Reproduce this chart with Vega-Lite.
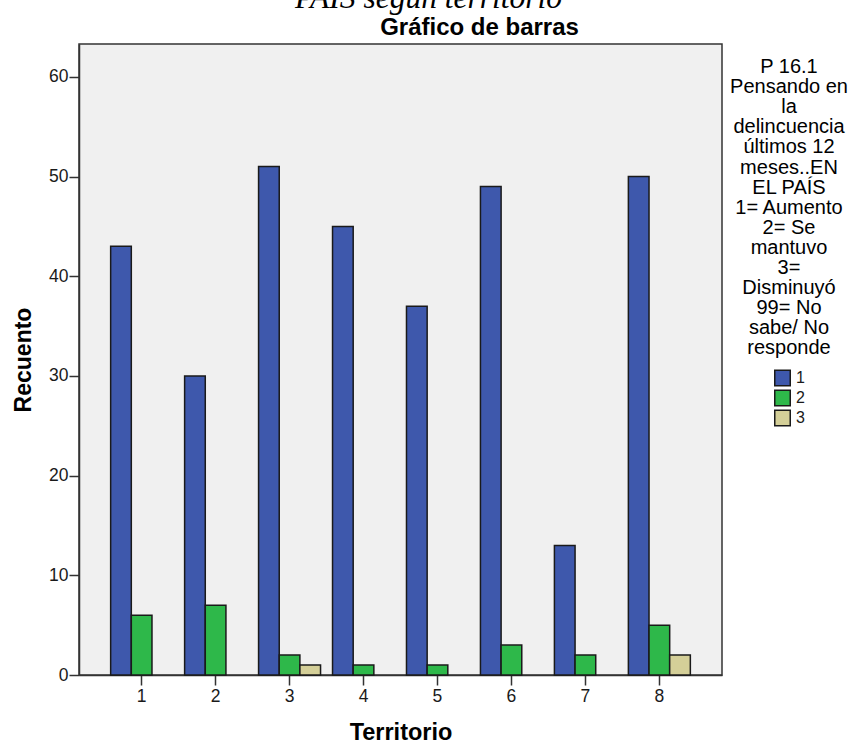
{
  "$schema": "https://vega.github.io/schema/vega-lite/v6.json",
  "autosize": "none",
  "width": 643,
  "height": 631,
  "padding": {"left": 79, "top": 44, "right": 130, "bottom": 67},
  "background": "white",
  "title": {
    "text": "PAÍS según territorio",
    "font": "Liberation Serif",
    "fontStyle": "italic",
    "fontWeight": "normal",
    "fontSize": 31.5,
    "color": "black",
    "anchor": "middle",
    "frame": "group",
    "dx": 28,
    "offset": 1
  },
  "config": {
    "view": {"fill": "#F0F0F0", "stroke": "#333333", "strokeWidth": 1.5},
    "font": "Liberation Sans",
    "axis": {"grid": false, "labelFont": "Liberation Sans", "titleFont": "Liberation Sans"}
  },
  "data": {
    "values": [
      {"territorio": "1", "respuesta": "1", "recuento": 43},
      {"territorio": "1", "respuesta": "2", "recuento": 6},
      {"territorio": "2", "respuesta": "1", "recuento": 30},
      {"territorio": "2", "respuesta": "2", "recuento": 7},
      {"territorio": "3", "respuesta": "1", "recuento": 51},
      {"territorio": "3", "respuesta": "2", "recuento": 2},
      {"territorio": "3", "respuesta": "3", "recuento": 1},
      {"territorio": "4", "respuesta": "1", "recuento": 45},
      {"territorio": "4", "respuesta": "2", "recuento": 1},
      {"territorio": "5", "respuesta": "1", "recuento": 37},
      {"territorio": "5", "respuesta": "2", "recuento": 1},
      {"territorio": "6", "respuesta": "1", "recuento": 49},
      {"territorio": "6", "respuesta": "2", "recuento": 3},
      {"territorio": "7", "respuesta": "1", "recuento": 13},
      {"territorio": "7", "respuesta": "2", "recuento": 2},
      {"territorio": "8", "respuesta": "1", "recuento": 50},
      {"territorio": "8", "respuesta": "2", "recuento": 5},
      {"territorio": "8", "respuesta": "3", "recuento": 2}
    ]
  },
  "layer": [
    {
      "mark": {"type": "bar", "stroke": "#1a1a1a", "strokeWidth": 1.5},
      "encoding": {
        "x": {
          "field": "territorio",
          "type": "nominal",
          "scale": {"paddingInner": 0.162, "paddingOuter": 0.428},
          "axis": {
            "orient": "bottom",
            "title": "Territorio",
            "titleFontSize": 23.5,
            "titleFontWeight": "bold",
            "titleColor": "black",
            "titlePadding": 16,
            "labelAngle": 0,
            "labelFontSize": 17.5,
            "labelColor": "#1a1a1a",
            "labelPadding": 2,
            "tickSize": 10,
            "tickColor": "#333333",
            "tickWidth": 1.5,
            "domainColor": "#333333",
            "domainWidth": 1.5
          }
        },
        "xOffset": {
          "field": "respuesta",
          "type": "nominal",
          "scale": {"paddingInner": 0, "paddingOuter": 0}
        },
        "y": {
          "field": "recuento",
          "type": "quantitative",
          "scale": {"domain": [0, 63.3], "nice": false},
          "axis": {
            "title": "Recuento",
            "values": [0, 10, 20, 30, 40, 50, 60],
            "titleFontSize": 23,
            "titleFontWeight": "bold",
            "titleColor": "black",
            "titlePadding": 13,
            "labelFontSize": 17.5,
            "labelColor": "#1a1a1a",
            "labelPadding": 1,
            "tickSize": 10,
            "tickColor": "#333333",
            "tickWidth": 1.5,
            "domainColor": "#333333",
            "domainWidth": 1.5
          }
        },
        "color": {
          "field": "respuesta",
          "type": "nominal",
          "scale": {"domain": ["1", "2", "3"], "range": ["#3E58AC", "#2EB84A", "#D4CF98"]},
          "legend": {
            "title": ["P 16.1", "Pensando en", "la", "delincuencia", "últimos 12", "meses..EN", "EL PAÍS", "1= Aumento", "2= Se", "mantuvo", "3=", "Disminuyó", "99= No", "sabe/ No", "responde"],
            "orient": "none",
            "legendX": 651,
            "legendY": 13,
            "padding": 0,
            "titleAlign": "center",
            "titleAnchor": "middle",
            "titleFont": "Liberation Sans",
            "titleFontSize": 20,
            "titleFontWeight": "normal",
            "titleColor": "black",
            "titleLineHeight": 20.1,
            "titlePadding": 11,
            "labelFont": "Liberation Sans",
            "labelFontSize": 16,
            "labelColor": "#1a1a1a",
            "labelOffset": 5,
            "symbolType": "square",
            "symbolSize": 240,
            "symbolStrokeColor": "#1a1a1a",
            "symbolStrokeWidth": 1.5,
            "symbolOpacity": 1,
            "symbolOffset": 0,
            "rowPadding": -3
          }
        }
      }
    },
    {
      "mark": {"type": "bar", "opacity": 0},
      "encoding": {
        "x": {
          "field": "territorio",
          "type": "nominal",
          "axis": {
            "orient": "top",
            "title": "Gráfico de barras",
            "labels": false,
            "ticks": false,
            "domain": false,
            "titleFontSize": 24,
            "titleFontWeight": "bold",
            "titleColor": "black",
            "titlePadding": 5,
            "titleX": 400
          }
        }
      }
    }
  ],
  "resolve": {"axis": {"x": "independent"}}
}
